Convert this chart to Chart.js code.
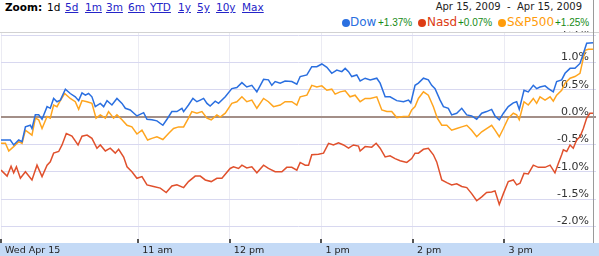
<!DOCTYPE html>
<html>
<head>
<meta charset="utf-8">
<script src="https://cdn.jsdelivr.net/npm/chart.js@4.4.1/dist/chart.umd.min.js"></script>
<style>
  body { margin: 0; background: #fff; font-family: "DejaVu Sans", Verdana, sans-serif; }
  #wrap { position: relative; width: 599px; height: 256px; overflow: hidden; }
  .z { position: absolute; top: 1px; font-size: 10.5px; line-height: 12px; color: #000; white-space: nowrap; }
  .z a { color: #2424c8; text-decoration: underline; }
  #range { position: absolute; top: 1px; right: 17px; font-size: 10px; line-height: 12px; color: #222; white-space: nowrap; }
  .lg { position: absolute; top: 15px; font-size: 12px; line-height: 15px; white-space: nowrap; }
  .dot { position: absolute; top: 19px; width: 8px; height: 8px; border-radius: 50%; }
  .chg { position: absolute; top: 17px; color: #168a16; font-family: "Liberation Sans", Arial, sans-serif; font-size: 10px; line-height: 12px; white-space: nowrap; }
  #chart { position: absolute; left: 0; top: 31px; }
  #rborder { position: absolute; left: 593px; top: 0; width: 1px; height: 243px; background: #9a9a9a; }
</style>
</head>
<body>
<div id="wrap">
  <span class="z" style="left:5px"><b>Zoom:</b></span>
  <span class="z" style="left:47px">1d</span>
  <span class="z" style="left:65px"><a>5d</a></span>
  <span class="z" style="left:85px"><a>1m</a></span>
  <span class="z" style="left:106px"><a>3m</a></span>
  <span class="z" style="left:128px"><a>6m</a></span>
  <span class="z" style="left:150px"><a>YTD</a></span>
  <span class="z" style="left:178px"><a>1y</a></span>
  <span class="z" style="left:197px"><a>5y</a></span>
  <span class="z" style="left:216px"><a>10y</a></span>
  <span class="z" style="left:242px"><a>Max</a></span>
  <div id="range">Apr 15, 2009&nbsp; -&nbsp; Apr 15, 2009</div>

  <span class="dot" style="left:342px;background:#2a6fe0"></span>
  <span class="lg" style="left:350px;color:#2a6fe0">Dow</span>
  <span class="chg" style="left:378px">+1.37%</span>
  <span class="dot" style="left:418px;background:#dd3c14"></span>
  <span class="lg" style="left:427px;color:#dd3c14">Nasd</span>
  <span class="chg" style="left:458px">+0.07%</span>
  <span class="dot" style="left:498px;background:#ff9c0a"></span>
  <span class="lg" style="left:507px;color:#ff9c0a">S&amp;P500</span>
  <span class="chg" style="left:555px">+1.25%</span>

  <canvas id="chart" width="599" height="225"></canvas>
  <div id="rborder"></div>
</div>
<script>
// minutes after 9:30 open, % change from previous close
const dowPoints = [[0,-0.42],[6.1,-0.42],[8.3,-0.51],[11.6,-0.42],[13.8,-0.45],[16,-0.18],[19.2,-0.15],[20.3,-0.21],[22.5,0.04],[24.7,0.04],[26.9,-0.04],[30.2,0.19],[32.3,0.16],[34.5,0.34],[36.7,0.28],[38.9,0.31],[42.2,0.51],[45.4,0.43],[48.7,0.37],[50.9,0.30],[53.1,0.44],[55.3,0.40],[57.4,0.43],[59.6,0.37],[61.8,0.19],[65.1,0.25],[67.3,0.19],[69.5,0.30],[72.7,0.22],[76,0.34],[79.3,0.25],[81.5,0.16],[84.7,0.13],[89.1,0.02],[93.5,0.08],[95.7,-0.04],[98.9,-0.05],[102.2,-0.07],[106.1,-0.15],[108.8,-0.04],[112,0.10],[115.3,0.10],[118.6,0.16],[119.7,0.10],[122.9,0.22],[125.8,0.34],[128.4,0.28],[130.6,0.31],[132.8,0.34],[135,0.25],[137.1,0.20],[140.4,0.29],[142.6,0.25],[147,0.37],[151.3,0.52],[154.6,0.54],[157.9,0.63],[161.1,0.55],[164.4,0.58],[167.7,0.46],[172.1,0.69],[175.3,0.68],[177.5,0.58],[179.7,0.65],[183,0.62],[186.2,0.66],[190.6,0.65],[193.9,0.60],[196.1,0.74],[200.5,0.77],[203.7,0.92],[207,0.92],[210.3,0.97],[213.6,0.91],[216.8,0.80],[220.1,0.86],[223.4,0.83],[225.6,0.89],[227.8,0.83],[229.9,0.74],[233.2,0.77],[235.4,0.66],[238.7,0.71],[242,0.68],[246.3,0.71],[248.5,0.62],[251.8,0.37],[255,0.37],[259.4,0.30],[263.8,0.28],[267.1,0.31],[268.6,0.26],[271.4,0.58],[273.6,0.62],[276.9,0.71],[280.1,0.68],[282.3,0.58],[284.5,0.52],[287.8,0.31],[290,0.19],[293.2,0.16],[295.4,0.04],[298.7,0.07],[302,0.16],[305.3,0.04],[308.5,0.02],[311.8,-0.04],[315.1,0.07],[318.3,0.10],[321.6,0.14],[323.8,0.02],[326.6,-0.05],[329.3,0.07],[332.5,0.19],[335.8,0.26],[338,0.28],[339.7,0.14],[342.8,0.49],[345.6,0.46],[348.9,0.58],[351.1,0.52],[353.3,0.55],[356.6,0.57],[358.8,0.52],[362,0.46],[364.2,0.65],[367.5,0.68],[369.7,0.80],[373,0.89],[376.2,0.89],[379.5,0.98],[381.7,1.16],[383.9,1.35],[388.2,1.36]];

const nasdPoints = [[0,-0.97],[4,-1.08],[6.6,-0.90],[8.3,-1.02],[10.1,-0.91],[12.7,-1.12],[16,-1.00],[20.3,-1.15],[23.6,-0.88],[26.9,-1.09],[30.2,-0.88],[32.3,-0.82],[34.5,-0.66],[37.8,-0.63],[40,-0.51],[42.8,-0.30],[46.5,-0.35],[50.5,-0.51],[53.1,-0.35],[56.4,-0.33],[59.6,-0.39],[62.9,-0.57],[65.1,-0.51],[68.4,-0.62],[71.6,-0.57],[74.9,-0.66],[77.1,-0.59],[80.4,-0.73],[82.6,-0.91],[85.8,-1.00],[89.1,-1.12],[92.4,-1.09],[95.7,-1.24],[100,-1.27],[104.4,-1.30],[108.3,-1.38],[112,-1.26],[115.3,-1.24],[119.7,-1.29],[122.9,-1.18],[127.3,-1.08],[130.6,-1.08],[133.9,-1.15],[137.8,-1.18],[141.5,-1.12],[144.8,-1.12],[150.2,-0.94],[152.4,-0.91],[155.7,-0.94],[157.9,-0.88],[161.1,-0.93],[164.4,-0.91],[167.7,-1.02],[172.1,-0.88],[175.3,-0.94],[179.7,-1.00],[184.1,-1.00],[187.3,-0.92],[190.6,-0.92],[193.9,-0.97],[196.1,-0.83],[199.4,-0.88],[201.6,-0.88],[203.7,-0.69],[208.1,-0.68],[211.4,-0.66],[214.7,-0.48],[217.9,-0.51],[221.2,-0.47],[224.5,-0.51],[227.8,-0.57],[231,-0.51],[234.3,-0.53],[235.4,-0.62],[238.7,-0.54],[243,-0.55],[245.9,-0.48],[248.5,-0.57],[251.8,-0.73],[255,-0.71],[258.3,-0.76],[261.6,-0.80],[266,-0.83],[269.2,-0.76],[271.4,-0.66],[273.6,-0.66],[276.9,-0.59],[280.1,-0.57],[283.4,-0.69],[285.6,-0.82],[288.9,-1.15],[292.2,-1.20],[295.4,-1.24],[298.7,-1.22],[302,-1.27],[305.3,-1.29],[308.5,-1.40],[311.8,-1.53],[315.1,-1.46],[318.3,-1.38],[321.6,-1.37],[323.8,-1.35],[326.6,-1.60],[329.3,-1.40],[332.5,-1.18],[335.8,-1.15],[338,-1.24],[340.2,-1.21],[342.8,-1.03],[345.6,-1.04],[348.9,-0.88],[352.2,-0.92],[356.6,-0.92],[359.9,-0.88],[363.1,-1.02],[365.3,-0.85],[367.5,-0.69],[368.6,-0.60],[370.8,-0.63],[373,-0.51],[375.1,-0.57],[377.3,-0.42],[379.5,-0.36],[381.7,-0.21],[383.9,-0.02],[386,0.07],[388.2,0.07]];

const spPoints = [[0,-0.48],[2.9,-0.48],[5.1,-0.62],[8.3,-0.54],[11.6,-0.45],[13.8,-0.48],[16,-0.24],[20.3,-0.33],[22.5,-0.02],[24.7,-0.05],[26.9,-0.21],[30.2,0.01],[32.3,-0.02],[34.5,0.22],[36.7,0.19],[38.5,0.28],[41.7,0.43],[45.4,0.34],[48.7,0.28],[50.9,0.14],[53.1,0.30],[56.4,0.28],[59.6,0.25],[62.3,-0.02],[65.1,0.04],[68.4,-0.02],[70.5,0.10],[73.8,-0.02],[76,0.04],[79.3,-0.05],[82.6,-0.15],[85.8,-0.18],[89.1,-0.31],[92.4,-0.24],[96.1,-0.42],[98.9,-0.39],[102.2,-0.36],[106.1,-0.41],[109.8,-0.30],[113.1,-0.21],[116.4,-0.18],[119.7,-0.18],[122.9,-0.02],[125.1,0.10],[128.4,0.07],[131.7,0.10],[135,-0.02],[137.8,-0.05],[141.5,0.04],[143.7,0.00],[147,0.07],[151.3,0.25],[154.6,0.28],[157.9,0.37],[161.1,0.28],[164.4,0.31],[167.7,0.16],[172.1,0.34],[175.3,0.28],[178.6,0.19],[183,0.22],[186.2,0.28],[190.6,0.28],[193.9,0.22],[196.1,0.37],[200.5,0.40],[203.7,0.58],[207,0.55],[210.3,0.57],[213.6,0.49],[216.8,0.51],[219,0.42],[222.3,0.46],[225.6,0.48],[228.8,0.37],[232.1,0.40],[235.4,0.28],[238.7,0.34],[242,0.34],[246.3,0.37],[249.6,0.13],[252.9,0.10],[256.1,0.10],[259.4,-0.01],[263.8,0.01],[267.1,0.01],[269.2,0.13],[271.4,0.19],[273.6,0.34],[276.9,0.46],[280.1,0.40],[283.4,0.19],[286,-0.02],[288.9,-0.15],[292.2,-0.15],[295.4,-0.24],[298.7,-0.21],[302,-0.18],[305.3,-0.15],[308.5,-0.24],[311.8,-0.36],[315.1,-0.27],[318.3,-0.21],[321.6,-0.15],[323.8,-0.24],[326.6,-0.36],[329.3,-0.21],[332.5,-0.02],[335.8,0.07],[338,0.04],[339.7,-0.05],[342.8,0.28],[345.6,0.22],[348.9,0.34],[351.1,0.25],[353.3,0.37],[356.6,0.31],[359.9,0.37],[362,0.29],[364.2,0.40],[367.5,0.49],[369.7,0.62],[373,0.71],[376.2,0.74],[379.5,0.80],[382.8,1.22],[385,1.24],[388.2,1.24]];

const xTickMinutes = [0, 90, 150, 210, 270, 330];
const xTickLabels = ["Wed Apr 15", "11 am", "12 pm", "1 pm", "2 pm", "3 pm"];
const yTicks = [-2.0, -1.5, -1.0, -0.5, 0.0, 0.5, 1.0, 1.5];

function toXY(points) {
  return points.map(p => ({ x: p[0], y: p[1] }));
}

function lineSet(label, points, color) {
  return {
    label,
    data: toXY(points),
    borderColor: color,
    borderWidth: 1.5,
    pointRadius: 0,
    tension: 0,
    fill: false
  };
}

// no extra room for overhanging tick labels
function noOverhang(s) {
  s.paddingTop = 0;
  s.paddingBottom = 0;
  s.paddingLeft = 0;
  s.paddingRight = 0;
}

const framePlugin = {
  id: "frame",
  beforeDraw(chart) {
    const { ctx, chartArea: a, width, height } = chart;
    ctx.save();
    ctx.fillStyle = "#c4daf6";
    ctx.fillRect(0, a.bottom, width, height - a.bottom);
    ctx.restore();
  },
  afterDraw(chart) {
    const { ctx, chartArea: a, width } = chart;
    const xs = chart.scales.x;
    ctx.save();
    ctx.fillStyle = "#d2d2d2";
    ctx.fillRect(0, a.top, width, 1);
    ctx.fillStyle = "#555";
    xs.ticks.forEach(t => {
      const px = Math.round(xs.getPixelForValue(t.value));
      ctx.fillRect(Math.max(px - 1, 0), a.bottom - 4, 2, 4);
    });
    ctx.restore();
  }
};

new Chart(document.getElementById("chart"), {
  type: "line",
  data: {
    datasets: [
      lineSet("Dow", dowPoints, "#2a6fe0"),
      lineSet("Nasd", nasdPoints, "#e0502c"),
      lineSet("S&P500", spPoints, "#ffa51e")
    ]
  },
  options: {
    responsive: false,
    animation: false,
    layout: { padding: { left: 1, right: 0, top: 1, bottom: 0 } },
    plugins: { legend: { display: false }, tooltip: { enabled: false } },
    scales: {
      x: {
        type: "linear",
        min: 0,
        max: 390,
        afterBuildTicks: s => { s.ticks = xTickMinutes.map(v => ({ value: v })); },
        afterFit: s => { s.height = 13; noOverhang(s); },
        grid: { color: "#ebebf3", drawTicks: false },
        border: { display: false },
        ticks: {
          autoSkip: false,
          maxRotation: 0,
          align: "start",
          labelOffset: 4,
          padding: 2,
          color: "#222",
          font: { family: "DejaVu Sans", size: 9.5 },
          callback: (v, i) => xTickLabels[i]
        }
      },
      y: {
        position: "right",
        min: -2.303,
        max: 1.555,
        afterBuildTicks: s => { s.ticks = yTicks.map(v => ({ value: v })); },
        afterFit: s => { s.width = 3; noOverhang(s); },
        grid: {
          drawTicks: false,
          color: c => (c.tick && c.tick.value === 0 ? "#a38f88" : "#d8d8f0"),
          lineWidth: c => (c.tick && c.tick.value === 0 ? 2 : 1)
        },
        border: { display: false },
        ticks: {
          mirror: true,
          padding: -7,
          labelOffset: -5,
          color: "#333",
          font: { family: "DejaVu Sans", size: 11 },
          callback: v => v.toFixed(1) + "%"
        }
      }
    }
  },
  plugins: [framePlugin]
});
</script>
</body>
</html>
